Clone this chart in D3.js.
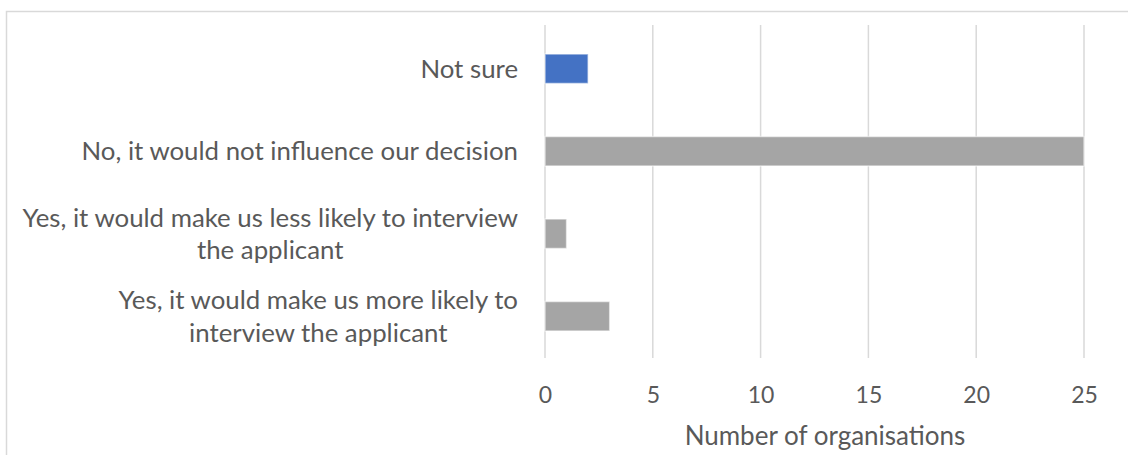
<!DOCTYPE html>
<html>
<head>
<meta charset="utf-8">
<script src="https://cdn.jsdelivr.net/npm/d3@7"></script>
<style>
  html, body { margin: 0; padding: 0; background: #fff; }
  svg { display: block; }
  text { font-family: Lato, "Noto Sans", sans-serif; fill: #595959; }
</style>
</head>
<body>
<svg id="chart" width="1128" height="455"></svg>
<script>
// ---- data ----
const categories = [
  "Not sure",
  "No, it would not influence our decision",
  "Yes, it would make us less likely to interview the applicant",
  "Yes, it would make us more likely to interview the applicant"
];
const values = [2, 25, 1, 3];
const barColors = ["#4472C4", "#A5A5A5", "#A5A5A5", "#A5A5A5"];
const xTicks = [0, 5, 10, 15, 20, 25];
const xTitle = "Number of organisations";

// ---- layout ----
const svg = d3.select("#chart");

// chart border (extends past right/bottom edges as in reference)
svg.append("rect")
  .attr("x", 6.5).attr("y", 11.5)
  .attr("width", 1140).attr("height", 460)
  .attr("fill", "none").attr("stroke", "#d9d9d9").attr("stroke-width", 1.5);

const x = d3.scaleLinear().domain([0, 25]).range([545, 1084]);
const y = d3.scaleBand().domain(categories).range([27.5, 357.5])
  .paddingInner(0.643).paddingOuter(0.3215);

// gridlines
svg.append("g").selectAll("line").data(xTicks).join("line")
  .attr("x1", d => x(d)).attr("x2", d => x(d))
  .attr("y1", 25).attr("y2", 358)
  .attr("stroke", "#d9d9d9").attr("stroke-width", 1.5);

// bars
svg.append("g").selectAll("rect").data(categories).join("rect")
  .attr("x", x(0))
  .attr("y", d => y(d))
  .attr("width", (d, i) => x(values[i]) - x(0))
  .attr("height", y.bandwidth())
  .attr("fill", (d, i) => barColors[i])
  .attr("stroke", "rgba(255,255,255,0.55)")
  .attr("stroke-width", 1.5);

// x axis tick labels via d3 axis
const xAxis = d3.axisBottom(x).tickValues(xTicks).tickSize(0).tickPadding(0);
const gx = svg.append("g").attr("transform", "translate(0,395)").call(xAxis);
gx.select(".domain").remove();
gx.selectAll("text")
  .attr("dy", "0.35em").attr("y", 0)
  .style("font-size", "23px")
  .style("font-family", "Lato, 'Noto Sans', sans-serif")
  .attr("fill", "#595959");

// axis title
svg.append("text")
  .attr("x", 825).attr("y", 436).attr("dy", "0.35em")
  .attr("text-anchor", "middle")
  .style("font-size", "26px")
  .text(xTitle);

// category labels with wrapping (lines centered, block right-aligned)
const labelRight = 518, maxLabelW = 505, lineH = 32.5;
const labelG = svg.append("g");
categories.forEach((c, i) => {
  const t = labelG.append("text").style("font-size", "25.8px").attr("text-anchor", "middle");
  const words = c.split(" ");
  const lines = [];
  let cur = [];
  const probe = t.append("tspan");
  words.forEach(w => {
    const trial = cur.concat([w]).join(" ");
    probe.text(trial);
    if (probe.node().getComputedTextLength() > maxLabelW && cur.length) {
      lines.push(cur.join(" "));
      cur = [w];
    } else cur.push(w);
  });
  lines.push(cur.join(" "));
  probe.remove();
  const widths = lines.map(l => { const s = t.append("tspan").text(l); const w = s.node().getComputedTextLength(); s.remove(); return w; });
  const blockW = d3.max(widths);
  const cx = labelRight - blockW / 2;
  const cy = y(c) + y.bandwidth() / 2;
  const n = lines.length;
  lines.forEach((l, k) => {
    t.append("tspan").attr("x", cx)
      .attr("y", cy + (k - (n - 1) / 2) * lineH)
      .attr("dy", "0.35em").text(l);
  });
});
</script>
</body>
</html>
